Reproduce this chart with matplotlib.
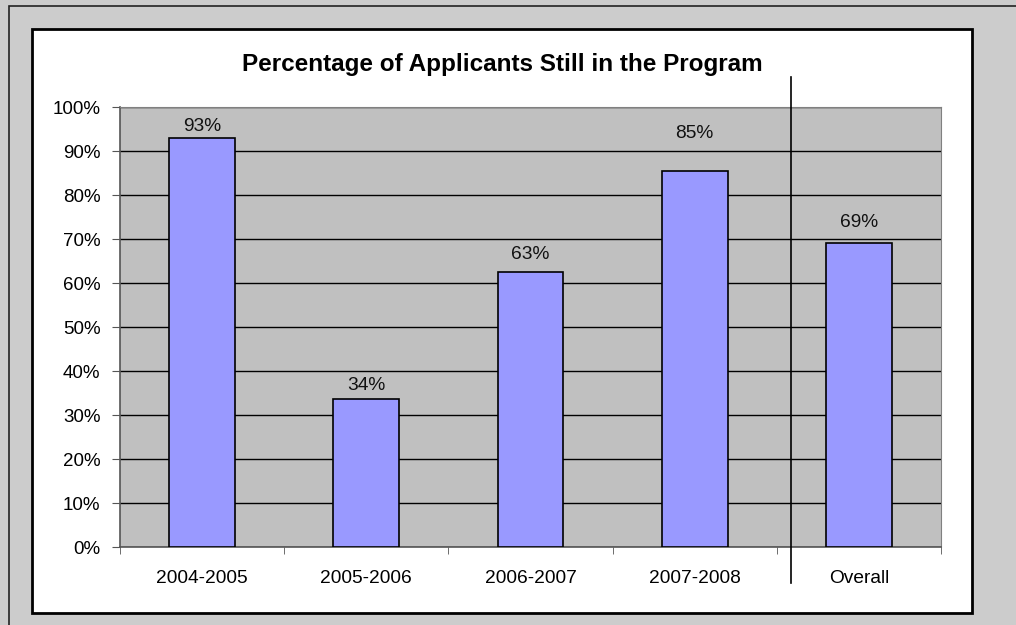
import matplotlib

matplotlib.use("Agg")
import matplotlib.pyplot as plt
from matplotlib.patches import Rectangle
from matplotlib.ticker import FixedLocator, PercentFormatter
import numpy as np

CATEGORIES = ["2004-2005", "2005-2006", "2006-2007", "2007-2008", "Overall"]
VALUES = [0.930, 0.337, 0.626, 0.854, 0.691]
LABELS = ["93%", "34%", "63%", "85%", "69%"]
TITLE = "Percentage of Applicants Still in the Program"
# label centre distance above each bar top (points); labels were hand-placed
LABEL_OFFSETS = [8, 9.4, 12.2, 27.4, 15.1]

W, H = 1016, 625
plt.rcParams["font.family"] = ["Liberation Sans", "DejaVu Sans"]

fig = plt.figure(figsize=(W / 100, H / 100), dpi=100)
fig.patch.set_facecolor("#cccccc")


def px(x0, y0, x1, y1):
    # pixel box (top-left origin) -> figure fraction rect
    return (x0 / W, 1 - y1 / H, (x1 - x0) / W, (y1 - y0) / H)


# outer frame line (top/left) and white chart area, kept behind the axes
l, b, w, h = px(9, 6, 1030, 640)
fig.patches.append(Rectangle((l, b), w, h, transform=fig.transFigure,
                             facecolor="#cccccc", edgecolor="#222222", lw=1.2,
                             zorder=-2))
l, b, w, h = px(32, 29, 972, 613)
fig.patches.append(Rectangle((l, b), w, h, transform=fig.transFigure,
                             facecolor="white", edgecolor="black", lw=2,
                             zorder=-1))

ax = fig.add_axes(px(120, 107, 941, 547.3))
ax.set_facecolor("#c0c0c0")
x = np.arange(len(CATEGORIES))
ax.bar(x, VALUES, width=0.4, color="#9999ff", edgecolor="black", lw=1.2, zorder=3)
for xi, v, lab, off in zip(x, VALUES, LABELS, LABEL_OFFSETS):
    ax.annotate(lab, (xi, v), xytext=(0, off), textcoords="offset points",
                ha="center", va="center", fontsize=13.8, color="#111111")

ax.set_xlim(-0.5, len(CATEGORIES) - 0.5)
ax.set_ylim(0, 1)
ax.yaxis.set_major_locator(FixedLocator(np.arange(0, 1.01, 0.1)))
ax.yaxis.set_major_formatter(PercentFormatter(1.0, decimals=0))
ax.grid(axis="y", color="black", lw=1, zorder=1)
ax.set_xticks(x)
ax.set_xticklabels(CATEGORIES)
ax.set_xticks(np.arange(-0.5, len(CATEGORIES)), minor=True)
ax.tick_params(axis="x", which="major", length=0, pad=16, labelsize=13.8)
ax.tick_params(axis="x", which="minor", length=5, color="#555555", direction="out")
ax.tick_params(axis="y", length=6, color="#555555", pad=8, labelsize=13.5)
for side in ("top", "right"):
    ax.spines[side].set_color("#808080")
for side in ("left", "bottom"):
    ax.spines[side].set_color("#555555")
    ax.spines[side].set_linewidth(1.2)

# separator between yearly and overall columns
ax.plot([3.586, 3.586], [1.068, -0.08], color="black", lw=1.2,
        transform=ax.get_xaxis_transform(), clip_on=False, zorder=4)

fig.text(502 / W, 1 - 64 / H, TITLE, ha="center", va="center",
         fontsize=17.5, fontweight="bold")

fig.savefig("out.png", dpi=100, facecolor=fig.get_facecolor())
